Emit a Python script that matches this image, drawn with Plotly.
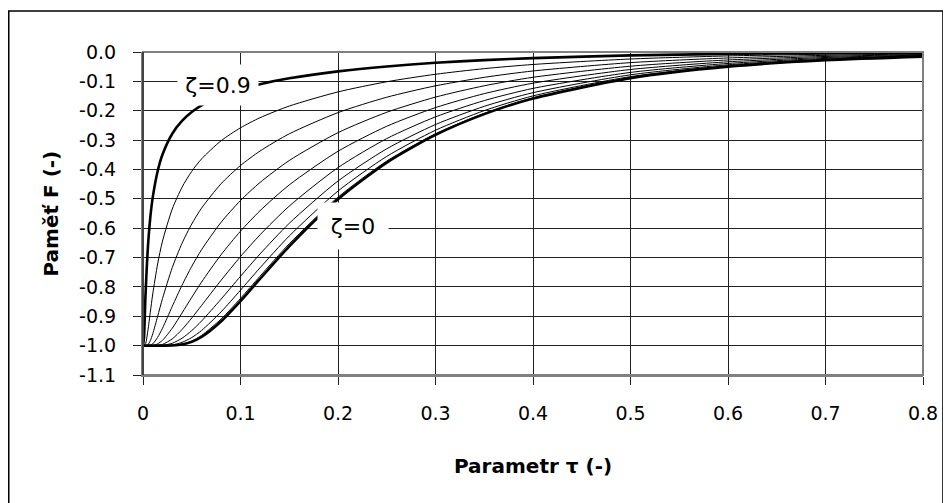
import plotly.graph_objects as go

# ---- data ----
tau = [0, 0.001, 0.0025, 0.005, 0.0075, 0.01, 0.015, 0.02, 0.03, 0.04, 0.05, 0.06,
       0.08, 0.10, 0.12, 0.15, 0.20, 0.25, 0.30, 0.35, 0.40, 0.50, 0.60, 0.70, 0.80]

F_z00 = [-1, -1, -1, -1, -1, -1, -1, -1.0, -0.9996, -0.9964, -0.9871, -0.9706, -0.9178,
         -0.8484, -0.7730, -0.6619, -0.5015, -0.3769, -0.2825, -0.2116, -0.1585, -0.0889,
         -0.0499, -0.0280, -0.0157]
F_z01 = [-1, -1, -1, -1, -1, -1, -1, -1.0, -0.9992, -0.9948, -0.9838, -0.9654, -0.9098,
         -0.8391, -0.7635, -0.6530, -0.4944, -0.3715, -0.2784, -0.2086, -0.1562, -0.0876,
         -0.0491, -0.0276, -0.0155]
F_z02 = [-1, -1, -1, -1, -1, -1, -1, -0.9996, -0.9975, -0.9890, -0.9724, -0.9486, -0.8852,
         -0.8111, -0.7350, -0.6266, -0.4735, -0.3555, -0.2664, -0.1996, -0.1495, -0.0838,
         -0.0470, -0.0264, -0.0148]
F_z03 = [-1, -1, -1, -1, -1, -1, -1, -0.9991, -0.9920, -0.9749, -0.9487, -0.9164, -0.8420,
         -0.7638, -0.6879, -0.5835, -0.4394, -0.3296, -0.2470, -0.1850, -0.1385, -0.0777,
         -0.0436, -0.0244, -0.0137]
F_z04 = [-1, -1, -1, -1, -1, -1, -0.999, -0.9959, -0.9770, -0.9451, -0.9059, -0.8635, -0.7778,
         -0.6968, -0.6227, -0.5248, -0.3937, -0.2949, -0.2209, -0.1654, -0.1239, -0.0695,
         -0.0390, -0.0219, -0.0123]
F_z05 = [-1, -1, -1, -1, -1, -1, -0.994, -0.9819, -0.9407, -0.8890, -0.8355, -0.7839, -0.6906,
         -0.6102, -0.5407, -0.4526, -0.3380, -0.2529, -0.1893, -0.1418, -0.1062, -0.0596,
         -0.0334, -0.0187, -0.0105]
F_z06 = [-1, -1, -1, -1, -0.998, -0.994, -0.972, -0.9407, -0.8664, -0.7944, -0.7300, -0.6736,
         -0.5802, -0.5058, -0.4445, -0.3695, -0.2747, -0.2053, -0.1536, -0.1150, -0.0861,
         -0.0483, -0.0271, -0.0152, -0.0085]
F_z07 = [-1, -1, -1, -0.997, -0.983, -0.960, -0.900, -0.8397, -0.7344, -0.6516, -0.5857,
         -0.5320, -0.4489, -0.3866, -0.3373, -0.2787, -0.2064, -0.1540, -0.1152, -0.0863,
         -0.0646, -0.0362, -0.0203, -0.0114, -0.0064]
F_z08 = [-1, -1, -0.995, -0.949, -0.886, -0.824, -0.722, -0.644, -0.5347, -0.4606, -0.4064,
         -0.3644, -0.3025, -0.2581, -0.2238, -0.1841, -0.1359, -0.1013, -0.0758, -0.0567,
         -0.0425, -0.0238, -0.0134, -0.0075, -0.0042]
F_z09 = [-1, -0.973, -0.834, -0.666, -0.563, -0.495, -0.406, -0.349, -0.2783, -0.2348,
         -0.2046, -0.1819, -0.1494, -0.1267, -0.1095, -0.0897, -0.0661, -0.0493, -0.0368,
         -0.0276, -0.0207, -0.0116, -0.0065, -0.0036, -0.0020]

zeta_names = ["0", "0.1", "0.2", "0.3", "0.4", "0.5", "0.6", "0.7", "0.8", "0.9"]
series = [F_z00, F_z01, F_z02, F_z03, F_z04, F_z05, F_z06, F_z07, F_z08, F_z09]

x_tickvals = [0, 0.1, 0.2, 0.3, 0.4, 0.5, 0.6, 0.7, 0.8]
x_ticktext = ["0", "0.1", "0.2", "0.3", "0.4", "0.5", "0.6", "0.7", "0.8"]
y_tickvals = [0.0, -0.1, -0.2, -0.3, -0.4, -0.5, -0.6, -0.7, -0.8, -0.9, -1.0, -1.1]
y_ticktext = ["0.0", "-0.1", "-0.2", "-0.3", "-0.4", "-0.5", "-0.6", "-0.7", "-0.8",
              "-0.9", "-1.0", "-1.1"]

FONT = "DejaVu Sans"

fig = go.Figure()
for name, vals in zip(zeta_names, series):
    bold = name in ("0", "0.9")
    fig.add_trace(go.Scatter(
        x=tau, y=vals, mode="lines", name="ζ=" + name,
        line=dict(color="black", width=2.6 if bold else 1.0,
                  shape="spline", smoothing=0.7),
        showlegend=False, hoverinfo="skip"))

axis_common = dict(
    showgrid=True, gridcolor="#202020", gridwidth=1,
    zeroline=False, ticks="outside", ticklen=8, tickcolor="#202020", tickwidth=1,
    showline=True, linecolor="#808080", linewidth=2,
    tickfont=dict(family=FONT, size=19, color="black"),
)

# page body has an 8px margin, so the figure is 8px smaller than the window
fig.update_layout(
    width=943, height=495,
    margin=dict(l=135, r=28, t=44, b=128),
    paper_bgcolor="white", plot_bgcolor="white",
    xaxis=dict(range=[0, 0.8], tickvals=x_tickvals, ticktext=x_ticktext,
               ticklabelstandoff=12, **axis_common),
    yaxis=dict(range=[-1.1, 0], tickvals=y_tickvals, ticktext=y_ticktext,
               ticklabelstandoff=13, **axis_common),
    hovermode=False,
)

# plot-area border (top / right), chart outer frame
fig.add_shape(type="rect", xref="paper", yref="paper", x0=0, x1=1, y0=0, y1=1,
              line=dict(color="#808080", width=2), layer="above")
fig.add_shape(type="line", xref="paper", yref="paper", x0=0, x1=0, y0=0, y1=1,
              line=dict(color="#303030", width=1.5), layer="above")
fig.add_shape(type="rect", xref="paper", yref="paper",
              x0=-0.1721, x1=1.0256, y0=-0.42, y1=1.1269,
              line=dict(color="black", width=1.5), layer="above")

# axis titles
fig.add_annotation(xref="paper", yref="paper", x=0.5, y=-0.2817,
                   text="<b>Parametr τ (-)</b>", showarrow=False,
                   xanchor="center", yanchor="middle",
                   font=dict(family=FONT, size=20, color="black"))
fig.add_annotation(xref="paper", yref="paper", x=-0.1192, y=0.5,
                   text="<b>Paměť F (-)</b>", showarrow=False, textangle=-90,
                   xanchor="center", yanchor="middle",
                   font=dict(family=FONT, size=20, color="black"))

# curve labels with white boxes
fig.add_annotation(x=0.0772, y=-0.1115, text="ζ=0.9", showarrow=False,
                   xanchor="center", yanchor="middle", bgcolor="white",
                   width=80, height=40, borderpad=0,
                   font=dict(family=FONT, size=22, color="black"))
fig.add_annotation(x=0.2157, y=-0.592, text="ζ=0", showarrow=False,
                   xanchor="center", yanchor="middle", bgcolor="white",
                   width=70, height=46, borderpad=0,
                   font=dict(family=FONT, size=22, color="black"))

fig.write_html("out.html")
